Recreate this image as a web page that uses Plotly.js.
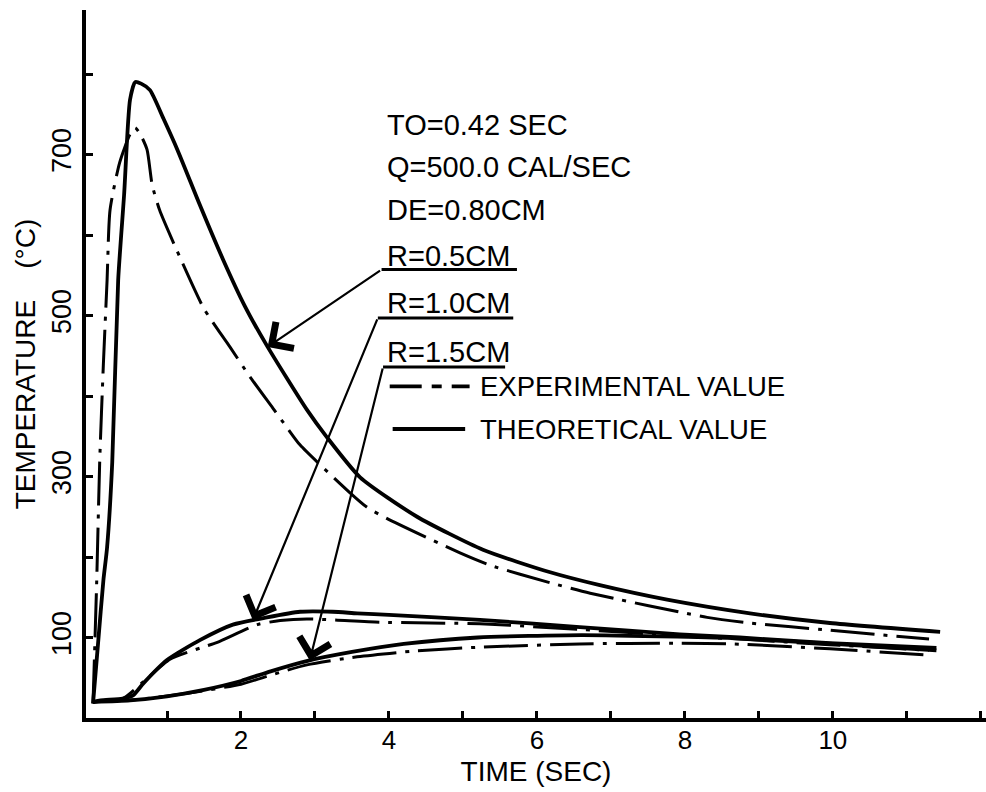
<!DOCTYPE html>
<html>
<head>
<meta charset="utf-8">
<script src="https://cdn.plot.ly/plotly-3.0.1.min.js"></script>
<style>html,body{margin:0;padding:0;background:#fff;}#chart{width:986px;height:792px;}</style>
</head>
<body>
<div id="chart"></div>
<script>
// ---- data ----
// R = 0.5 cm
const tR05Theo = [0, 0.07, 0.14, 0.19, 0.26, 0.34, 0.42, 0.5, 0.57, 0.65, 0.77, 0.95, 1.14, 1.45, 1.76, 2.05, 2.36, 2.89, 3.16, 3.61, 4.38, 5.27, 6.18, 6.85, 7.76, 8.88, 9.96, 11.45];
const TR05Theo = [18, 95, 171, 212, 318, 544, 650, 768, 790, 788, 780, 745, 706, 636, 569, 512, 461, 383, 349, 299, 250, 209, 181, 165, 147, 130, 118, 107];
const tR05Exp = [0, 0.05, 0.09, 0.14, 0.19, 0.23, 0.36, 0.5, 0.57, 0.64, 0.73, 0.8, 0.9, 1.07, 1.49, 1.72, 1.85, 2.12, 2.43, 2.62, 2.8, 3.47, 3.7, 3.97, 4.96, 5.36, 6.18, 6.72, 8.3, 8.88, 9.96, 11.3];
const TR05Exp = [18, 171, 318, 440, 544, 631, 690, 725, 733, 725, 706, 662, 631, 594, 510, 478, 461, 424, 385, 361, 339, 280, 262, 248, 205, 190, 168, 155, 125, 118, 109, 98];
// R = 1.0 cm
const tR10Theo = [0, 0.1, 0.4, 0.54, 0.68, 1.0, 1.45, 1.89, 2.35, 2.8, 3.24, 3.57, 4.0, 5.23, 6.58, 7.93, 8.74, 9.96, 11.4];
const TR10Theo = [20, 22, 24, 28, 43, 72, 97, 116, 125, 132, 132, 130, 128, 122, 113, 104, 100, 93, 87];
const tR10Exp = [0, 0.4, 0.68, 1.04, 1.45, 1.68, 2.22, 2.53, 2.89, 3.88, 5.23, 6.58, 7.93, 8.74, 9.96, 11.3];
const TR10Exp = [20, 24, 45, 73, 87, 94, 116, 121, 123, 119, 117, 110, 102, 98, 91, 84];
// R = 1.5 cm
const tR15Theo = [0, 0.5, 1.0, 1.5, 2.0, 2.4, 2.9, 3.5, 4.2, 5.2, 6.6, 7.9, 8.7, 10.0, 11.4];
const TR15Theo = [20, 22, 27, 35, 46, 58, 71, 82, 92, 100, 103, 101, 99, 92, 84];
const tR15Exp = [0, 0.6, 1.3, 2.0, 2.43, 2.89, 3.57, 4.32, 5.23, 6.58, 7.93, 8.65, 9.96, 11.3];
const TR15Exp = [20, 23, 31, 42, 54, 66, 76, 83, 88, 92, 93, 92, 86, 78];

// ticks and labels
const xTickVals = [1, 2, 3, 4, 5, 6, 7, 8, 9, 10, 11, 12];
const xTickText = ['', '2', '', '4', '', '6', '', '8', '', '10', '', ''];
const yTickVals = [100, 200, 300, 400, 500, 600, 700, 800];
const yTickText = ['100', '', '300', '', '500', '', '700', ''];
const xTitle = 'TIME (SEC)';
const yTitle = 'TEMPERATURE    (°C)';
const noteLines = ['TO=0.42 SEC', 'Q=500.0 CAL/SEC', 'DE=0.80CM'];
const radiusLabels = ['R=0.5CM', 'R=1.0CM', 'R=1.5CM'];
const legendLabels = ['EXPERIMENTAL VALUE', 'THEORETICAL VALUE'];
// ---- end of data ----

const FONT = 'Liberation Sans, Arial, sans-serif';
const solidLine = {color: '#000', width: 3.8};
const dashLine = {color: '#000', width: 3, dash: '44px,9px,4px,9px'};

function mk(x, y, line) {
  return {x: x, y: y, type: 'scatter', mode: 'lines', line: Object.assign({shape: 'spline', smoothing: 0.6}, line), hoverinfo: 'skip', showlegend: false};
}
const traces = [
  mk(tR05Exp, TR05Exp, dashLine),
  mk(tR10Exp, TR10Exp, dashLine),
  mk(tR15Exp, TR15Exp, dashLine),
  mk(tR05Theo, TR05Theo, solidLine),
  mk(tR10Theo, TR10Theo, solidLine),
  mk(tR15Theo, TR15Theo, solidLine)
];

function interp(xs, ys, x) {
  for (let i = 1; i < xs.length; i++) {
    if (x <= xs[i]) {
      const f = (x - xs[i - 1]) / (xs[i] - xs[i - 1]);
      return ys[i - 1] + f * (ys[i] - ys[i - 1]);
    }
  }
  return ys[ys.length - 1];
}

const annotations = [];
const shapes = [];
// parameter notes
const noteY = [737, 684, 631];
noteLines.forEach((t, i) => annotations.push({
  text: t, x: 3.95, y: noteY[i], xref: 'x', yref: 'y', xanchor: 'left', yanchor: 'middle',
  showarrow: false, font: {family: FONT, size: 29, color: '#000'}
}));
// radius labels, underlines and leader arrows
const rLabelY = [574, 516, 455];
const rLineY = [557, 497, 436];
const rLineX0 = [3.9, 3.85, 3.92];
const rLineX1 = [5.73, 5.68, 5.57];
const tipX = [2.36, 2.16, 2.93];
const tipCurves = [[tR05Theo, TR05Theo], [tR10Theo, TR10Theo], [tR15Theo, TR15Theo]];
radiusLabels.forEach((t, i) => {
  annotations.push({
    text: t, x: 3.95, y: rLabelY[i], xref: 'x', yref: 'y', xanchor: 'left', yanchor: 'middle',
    showarrow: false, font: {family: FONT, size: 29, color: '#000'}
  });
  shapes.push({type: 'line', xref: 'x', yref: 'y', x0: rLineX0[i], x1: rLineX1[i], y0: rLineY[i], y1: rLineY[i], line: {color: '#000', width: 3}});
  const ty = interp(tipCurves[i][0], tipCurves[i][1], tipX[i]);
  annotations.push({
    text: '', x: tipX[i], y: ty, xref: 'x', yref: 'y', ax: rLineX0[i], ay: rLineY[i], axref: 'x', ayref: 'y',
    showarrow: true, arrowhead: 4, arrowsize: 2.8, arrowwidth: 2.2, arrowcolor: '#000', standoff: 0
  });
});
// legend
const legY = [412, 359];
const legLineX0 = [4.01, 4.05];
const legLineX1 = [5.09, 5.03];
const legDash = ['32px,10px,10px,10px', 'solid'];
legendLabels.forEach((t, i) => {
  shapes.push({type: 'line', xref: 'x', yref: 'y', x0: legLineX0[i], x1: legLineX1[i], y0: legY[i], y1: legY[i], line: {color: '#000', width: 3.8, dash: legDash[i]}});
  annotations.push({
    text: t, x: 5.2, y: legY[i], xref: 'x', yref: 'y', xanchor: 'left', yanchor: 'middle',
    showarrow: false, font: {family: FONT, size: 27.5, color: '#000'}
  });
});

const layout = {
  width: 986, height: 792,
  margin: {l: 86, r: 0, t: 10, b: 74, pad: 0},
  paper_bgcolor: '#fff', plot_bgcolor: '#fff',
  showlegend: false,
  font: {family: FONT, color: '#000'},
  xaxis: {
    range: [-0.095, 12.07], showline: true, linewidth: 4, linecolor: '#000',
    ticks: 'inside', ticklen: 7, tickwidth: 3, tickcolor: '#000',
    tickmode: 'array', tickvals: xTickVals, ticktext: xTickText,
    tickfont: {family: FONT, size: 26, color: '#000'}, ticklabelstandoff: -4,
    showgrid: false, zeroline: false,
    title: {text: xTitle, font: {family: FONT, size: 28, color: '#000'}, standoff: 8}
  },
  yaxis: {
    range: [0, 879.5], showline: true, linewidth: 4, linecolor: '#000',
    ticks: 'inside', ticklen: 7, tickwidth: 3, tickcolor: '#000',
    tickmode: 'array', tickvals: yTickVals, ticktext: yTickText, tickangle: -90,
    tickfont: {family: FONT, size: 27, color: '#000'}, ticklabelstandoff: 0,
    showgrid: false, zeroline: false,
    title: {text: yTitle, font: {family: FONT, size: 28, color: '#000'}, standoff: 4}
  },
  annotations: annotations,
  shapes: shapes
};

Plotly.newPlot('chart', traces, layout, {staticPlot: true, displayModeBar: false});
</script>
</body>
</html>
